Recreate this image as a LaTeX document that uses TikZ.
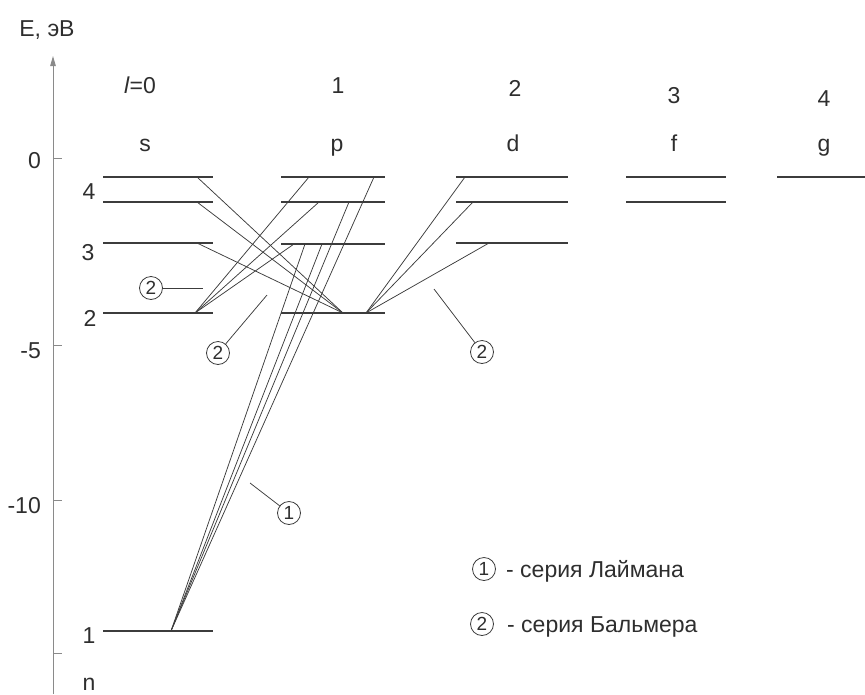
\documentclass[tikz,border=0pt]{standalone}
\usepackage{fontspec}
\setmainfont{Liberation Sans}
\usetikzlibrary{arrows.meta}

\definecolor{lc}{HTML}{3C3C3C}
\definecolor{tc}{HTML}{2E2E2E}
\definecolor{ac}{HTML}{8A8A8A}

\tikzset{
	level/.style={line width=1.3pt, draw=lc},
	trans/.style={line width=0.75pt, draw=lc},
	lbl/.style={anchor=base, inner sep=0pt, text=tc, font=\fontsize{23}{25}\selectfont},
	series/.style={circle, draw=lc, line width=0.8pt, inner sep=0pt, minimum size=23pt, text=tc, font=\fontsize{19}{20}\selectfont},
}

\begin{document}
\begin{tikzpicture}[x=1pt, y=-1pt]
	\useasboundingbox (0,0) rectangle (865,694);

	% energy axis
	\draw[ac, line width=1pt, -{Triangle[length=10pt,width=5.5pt]}] (53,694) -- (53,56);
	\foreach \yy in {158,345,500,653} \draw[ac, line width=1pt] (53,\yy) -- (62,\yy);
	\node[lbl] (E) at (47,36) {E, эВ};
	\node[lbl, anchor=base east] (e0) at (41,168) {0};
	\node[lbl, anchor=base east] (e5) at (41,358) {-5};
	\node[lbl, anchor=base east] (e10) at (41,513) {-10};

	% l and term letters
	\node[lbl] (l0) at (140,93) {\textit{l}=0};
	\node[lbl] (l1) at (338,93) {1};
	\node[lbl] (l2) at (515,96) {2};
	\node[lbl] (l3) at (674,103) {3};
	\node[lbl] (l4) at (824,106) {4};
	\node[lbl] (ts) at (145,151) {s};
	\node[lbl] (tp) at (337,151) {p};
	\node[lbl] (td) at (513,151) {d};
	\node[lbl] (tf) at (674,151) {f};
	\node[lbl] (tg) at (824,151) {g};

	% n
	\node[lbl] (n4) at (89,199) {4};
	\node[lbl] (n3) at (88,260) {3};
	\node[lbl] (n2) at (90,326) {2};
	\node[lbl] (n1) at (89,643) {1};
	\node[lbl] (nn) at (89,690) {n};

	% levels
	\foreach \yy in {177,202,243,313,631} \draw[level] (103,\yy) -- (213,\yy);
	\foreach \yy in {177,202,244,313} \draw[level] (281,\yy) -- (385,\yy);
	\foreach \yy in {177,202,243} \draw[level] (456,\yy) -- (568,\yy);
	\foreach \yy in {177,202} \draw[level] (626,\yy) -- (726,\yy);
	\draw[level] (777,177) -- (865,177);

	% end points of the transitions
	\coordinate (s1) at (171,631);
	\coordinate (s2) at (195,313);
	\coordinate (p2a) at (343,313);
	\coordinate (p2b) at (366,313);

	% Balmer
	\foreach \xx/\yy in {197/177,197/202,197/243} \draw[trans] (\xx,\yy) -- (p2a);
	\foreach \xx/\yy in {309/177,319/202,294/244} \draw[trans] (\xx,\yy) -- (s2);
	\foreach \xx/\yy in {465/177,473/202,489/243} \draw[trans] (\xx,\yy) -- (p2b);

	% Lyman
	\foreach \xx/\yy in {374/177,349/202,322/244,305/244} \draw[trans] (\xx,\yy) -- (s1);

	% series marks
	\node[series] (m2a) at (151,288) {2};
	\node[series] (m2b) at (218,353) {2};
	\node[series] (m2c) at (482,352) {2};
	\node[series] (m1) at (289,513) {1};
	\coordinate (m2aend) at (203,288);
	\coordinate (m2bend) at (267,295);
	\coordinate (m2cend) at (434,289);
	\coordinate (m1end) at (250,483);
	\draw[trans] (m2a) -- (m2aend);
	\draw[trans] (m2b) -- (m2bend);
	\draw[trans] (m2c) -- (m2cend);
	\draw[trans] (m1) -- (m1end);

	% legend
	\node[series] (k1) at (484,569) {1};
	\node[series] (k2) at (482,624) {2};
	\node[lbl, anchor=base west] (k1txt) at (506,577) {- серия Лаймана};
	\node[lbl, anchor=base west] (k2txt) at (507,632) {- серия Бальмера};
\end{tikzpicture}
\end{document}
